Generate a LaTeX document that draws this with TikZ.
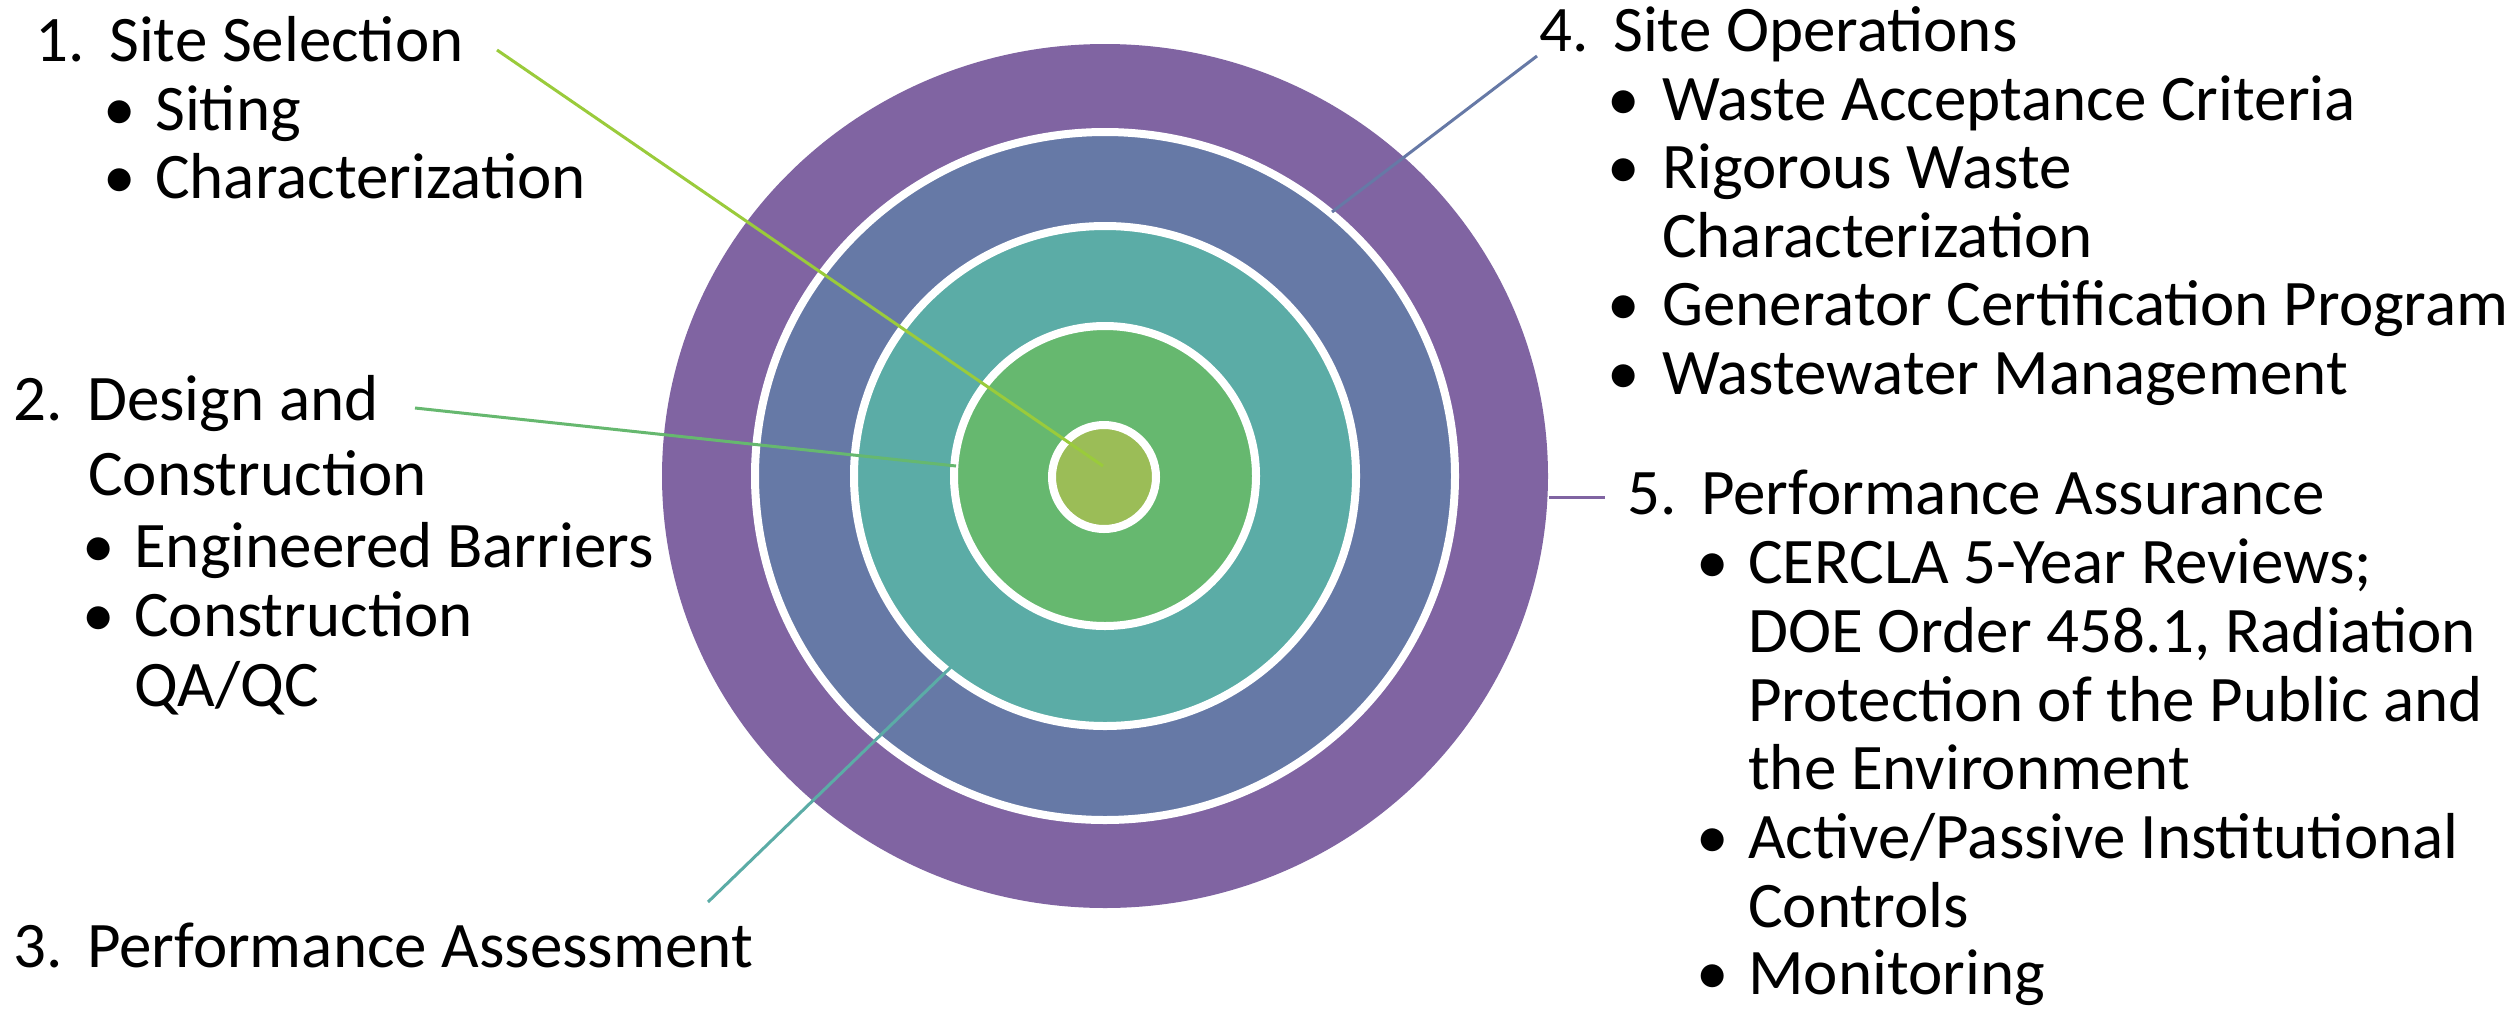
\documentclass[tikz,border=0pt]{standalone}
\usepackage{fontspec}
\setmainfont{Carlito}
\definecolor{cPurple}{HTML}{8064A2}
\definecolor{cBlue}{HTML}{6679A6}
\definecolor{cTeal}{HTML}{5BACA6}
\definecolor{cGreen}{HTML}{66B86F}
\definecolor{cInner}{HTML}{9BBD57}
\definecolor{cLineA}{HTML}{9ACB3B}
\tikzset{
  txt/.style={anchor=base west, inner sep=0pt, font=\fontsize{65}{68.5}\selectfont},
  bul/.style={anchor=base, inner sep=0pt, font=\fontsize{65}{68.5}\selectfont},
  ring/.style={draw=white, line width=8pt},
  conn/.style={line width=3pt},
}
\newcommand{\numlab}[1]{\makebox[74pt][l]{#1}}
\begin{document}
\begin{tikzpicture}[x=1pt,y=-1pt]
\useasboundingbox (0,0) rectangle (2506,1010);
\fill[white] (0,0) rectangle (2506,1010);
% rings
\coordinate (c) at (1105,476);
\fill[cPurple] (c) ellipse [x radius=443pt, y radius=432pt];
\draw[ring, fill=cBlue] (c) ellipse [x radius=350pt, y radius=344pt];
\draw[ring, fill=cTeal] (c) ellipse [x radius=251pt, y radius=250pt];
\draw[ring, fill=cGreen] (c) ellipse [x radius=151pt, y radius=150pt];
\draw[ring, fill=cInner] (1104,477) ellipse [x radius=52pt, y radius=52pt];
% connector end points
\coordinate (a1) at (497,50);   \coordinate (b1) at (1103,466);
\coordinate (a2) at (415,408);  \coordinate (b2) at (956,466);
\coordinate (a3) at (708,902);  \coordinate (b3) at (951,667);
\coordinate (a4) at (1537,56);  \coordinate (b4) at (1332,212);
\coordinate (a5) at (1549,497); \coordinate (b5) at (1605,497);
\draw[conn, cLineA] (a1) -- (b1);
\draw[conn, cGreen] (a2) -- (b2);
\draw[conn, cTeal] (a3) -- (b3);
\draw[conn, cBlue] (a4) -- (b4);
\draw[conn, cPurple] (a5) -- (b5);
% block 1
\node[txt] (h1) at (35,61) {\numlab{1.}Site Selection};
\node[bul] (d11) at (120,130) {•};
\node[txt] (t11) at (155,130) {Siting};
\node[bul] (d12) at (120,198) {•};
\node[txt] (t12) at (155,198) {Characterization};
% block 2
\node[txt] (h2) at (13,420) {\numlab{2.}Design and};
\node[txt] (h2b) at (88,495) {Construction};
\node[bul] (d21) at (99,567) {•};
\node[txt] (t21) at (134,567) {Engineered Barriers};
\node[bul] (d22) at (99,636) {•};
\node[txt] (t22) at (134,636) {Construction};
\node[txt] (t22b) at (134,706) {QA/QC};
% block 3
\node[txt] (h3) at (13,967) {\numlab{3.}Performance Assessment};
% block 4
\node[txt] (h4) at (1539,51) {\numlab{4.}Site Operations};
\node[bul] (d41) at (1624,120) {•};
\node[txt] (t41) at (1662,120) {Waste Acceptance Criteria};
\node[bul] (d42) at (1624,188) {•};
\node[txt] (t42) at (1662,188) {Rigorous Waste};
\node[txt] (t42b) at (1662,257) {Characterization};
\node[bul] (d43) at (1624,325) {•};
\node[txt] (t43) at (1662,325) {Generator Certification Program};
\node[bul] (d44) at (1624,394) {•};
\node[txt] (t44) at (1662,394) {Wastewater Management};
% block 5
\node[txt] (h5) at (1627,514) {\numlab{5.}Performance Assurance};
\node[bul] (d51) at (1713,583) {•};
\node[txt] (t51) at (1748,583) {CERCLA 5-Year Reviews;};
\node[txt] (t51b) at (1748,652) {DOE Order 458.1, Radiation};
\node[txt] (t51c) at (1748,721) {Protection of the Public and};
\node[txt] (t51d) at (1748,789) {the Environment};
\node[bul] (d52) at (1713,858) {•};
\node[txt] (t52) at (1748,858) {Active/Passive Institutional};
\node[txt] (t52b) at (1748,927) {Controls};
\node[bul] (d53) at (1713,994) {•};
\node[txt] (t53) at (1748,994) {Monitoring};
\end{tikzpicture}
\end{document}
